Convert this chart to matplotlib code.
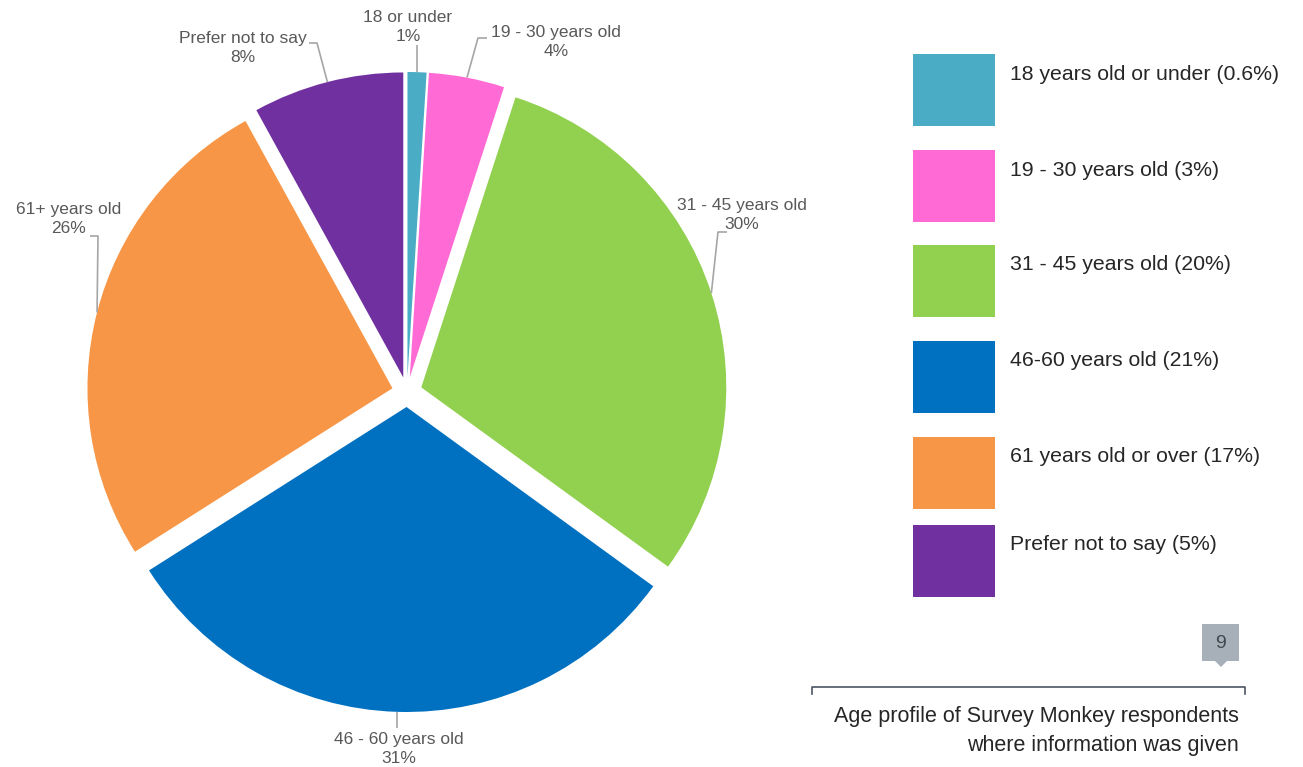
import numpy as np
import matplotlib

matplotlib.use("Agg")
import matplotlib.pyplot as plt
from matplotlib.patches import Rectangle, Polygon

plt.rcParams["font.family"] = ["Liberation Sans", "DejaVu Sans"]

# Survey Monkey respondents by age band
slice_names = ["18 or under", "19 - 30 years old", "31 - 45 years old",
               "46 - 60 years old", "61+ years old", "Prefer not to say"]
slice_pct = [1, 4, 30, 31, 26, 8]

legend_names = ["18 years old or under (0.6%)", "19 - 30 years old (3%)",
                "31 - 45 years old (20%)", "46-60 years old (21%)",
                "61 years old or over (17%)", "Prefer not to say (5%)"]
colors = ["#4BACC6", "#FF6AD5", "#92D050", "#0070C0", "#F79646", "#7030A0"]

caption = "Age profile of Survey Monkey respondents\nwhere information was given"
page_no = "9"

W, H = 1303, 767
fig = plt.figure(figsize=(W / 100, H / 100), dpi=100)
ax = fig.add_axes([0, 0, 1, 1])


def Y(y):
    # pixel rows counted from the top
    return H - y


wedges, _ = ax.pie(slice_pct, colors=colors, startangle=90, counterclock=False,
                   radius=305, center=(407, Y(392)), explode=[15] * 6,
                   wedgeprops=dict(linewidth=0))

# label placement: (elbow, end of leader, text centre) in pixel rows from top
label_layout = [
    (None, (408, 45), (408, 27)),
    ((478, 38), (487, 38), (556, 42)),
    ((718, 232), (727, 232), (742, 215)),
    (None, (397, 728), (399, 749)),
    ((98, 236), (90, 236), (69, 219)),
    ((317, 43), (309, 43), (243, 48)),
]
grey = "#595959"
for w, name, pct, (elbow, end, txt) in zip(wedges, slice_names, slice_pct, label_layout):
    mid = np.deg2rad((w.theta1 + w.theta2) / 2)
    cx, cy = w.center
    sx, sy = cx + w.r * np.cos(mid), cy + w.r * np.sin(mid)
    xs, ys = [sx], [sy]
    if elbow is not None:
        xs.append(elbow[0])
        ys.append(Y(elbow[1]))
    else:
        end = (sx, end[1])
    xs.append(end[0])
    ys.append(Y(end[1]))
    ax.plot(xs, ys, color="#A6A6A6", lw=1.2, solid_capstyle="butt")
    ax.text(txt[0], Y(txt[1]), f"{name}\n{pct}%", ha="center", va="center",
            multialignment="center", fontsize=12.5, color=grey, linespacing=1.37)

# legend boxes
box_tops = [54, 150, 245, 341, 437, 525]
for top, name, c in zip(box_tops, legend_names, colors):
    ax.add_patch(Rectangle((913, Y(top + 72)), 82, 72, facecolor=c, edgecolor="none"))
    ax.text(1010, Y(top + 20), name, ha="left", va="center", fontsize=15.3, color="#262626")

# page number tag
ax.add_patch(Rectangle((1202, Y(661)), 37, 37, facecolor="#A7B0B8", edgecolor="none"))
ax.add_patch(Polygon([(1215, Y(661)), (1227, Y(661)), (1221, Y(667))],
                     closed=True, facecolor="#A7B0B8", edgecolor="none"))
ax.text(1220.5, Y(643), page_no, ha="center", va="center", fontsize=14, color="#3F474F")

# caption rule with end ticks
ax.plot([812, 812, 1245, 1245], [Y(694), Y(687), Y(687), Y(694)],
        color="#4A5563", lw=1.2)
ax.text(1239, Y(731), caption, ha="right", va="center", fontsize=15.5,
        color="#262626", linespacing=1.55)

ax.set_xlim(0, W)
ax.set_ylim(0, H)
ax.set_aspect("equal")
ax.axis("off")

fig.savefig("out.png", dpi=100, facecolor="white")
